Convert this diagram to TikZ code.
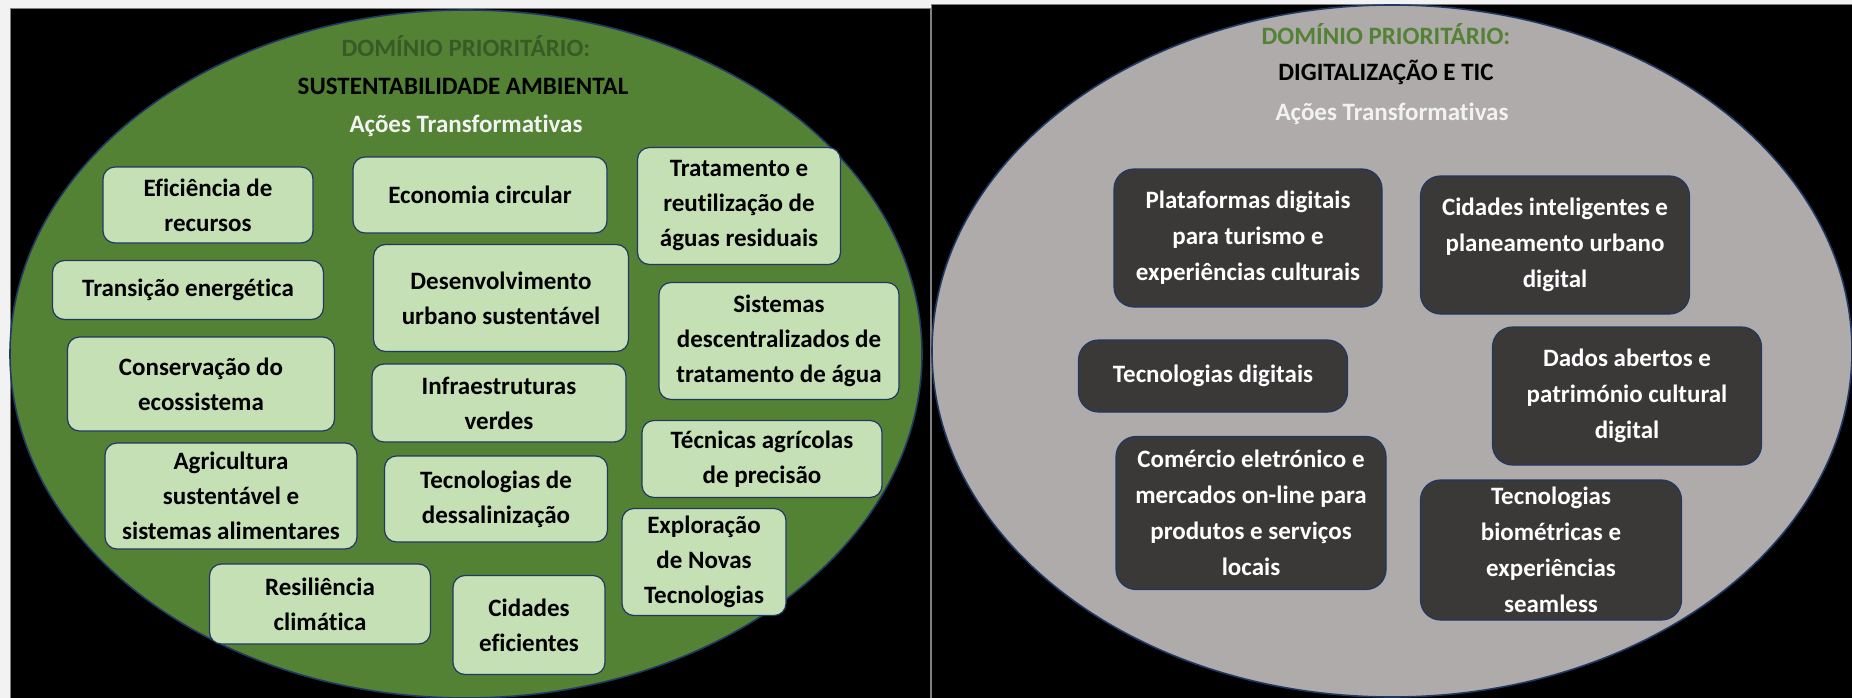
\documentclass[tikz,border=0pt]{standalone}
\usepackage{fontspec}
\setmainfont{Carlito}[Ligatures=NoCommon]
\usetikzlibrary{positioning}
\definecolor{leafgreen}{HTML}{548235}
\definecolor{darkleaf}{HTML}{3A5A25}
\definecolor{palegreen}{HTML}{C5E0B4}
\definecolor{navyline}{HTML}{1F3864}
\definecolor{stonegray}{HTML}{AFABAB}
\definecolor{charcoal}{HTML}{3B3838}
\definecolor{pagegray}{HTML}{F2F2F2}

\begin{document}
\begin{tikzpicture}[
x=1pt, y=-1pt,
greenbox/.style={draw=navyline, line width=1.2pt, fill=palegreen, rounded corners=12pt, align=center, inner sep=2pt, text=black, font=\fontsize{25}{35}\selectfont\bfseries},
darkbox/.style={draw=navyline, line width=1.2pt, fill=charcoal, rounded corners=20pt, align=center, inner sep=2pt, text=white, font=\fontsize{25}{36}\selectfont\bfseries},
headline/.style={anchor=base, inner sep=0pt, font=\fontsize{25}{30}\selectfont\bfseries},
oval/.style={draw=navyline, line width=1.6pt}
]

\useasboundingbox (0,0) rectangle (1852,698);
\fill[pagegray] (0,0) rectangle (1852,698);
\draw[gray, fill=black] (10,8) rectangle (930,702);
\draw[gray, fill=black] (931,4) rectangle (1856,702);

\draw[oval, fill=leafgreen] (466,354) ellipse [x radius=456, y radius=344];
\draw[oval, fill=stonegray] (1392,351) ellipse [x radius=460, y radius=346];

\node[headline, text=darkleaf] (domleft) at (466,57) {DOMÍNIO PRIORITÁRIO:};
\node[headline, text=black] (sust) at (463,95) {SUSTENTABILIDADE AMBIENTAL};
\node[headline, text=pagegray] (acoesleft) at (466,132) {Ações Transformativas};

\node[greenbox, minimum width=210, minimum height=76] (efic) at (208,205) {Eficiência de\\recursos};
\node[greenbox, minimum width=254, minimum height=76] (econ) at (480,195) {Economia circular};
\node[greenbox, minimum width=203, minimum height=117] (trat) at (739,206) {Tratamento e\\reutilização de\\águas residuais};
\node[greenbox, minimum width=271, minimum height=59] (trans) at (188,290) {Transição energética};
\node[greenbox, minimum width=255, minimum height=107] (desen) at (501,298) {Desenvolvimento\\urbano sustentável};
\node[greenbox, minimum width=240, minimum height=117] (sist) at (779,341) {Sistemas\\descentralizados de\\tratamento de água};
\node[greenbox, minimum width=267, minimum height=94] (cons) at (201,384) {Conservação do\\ecossistema};
\node[greenbox, minimum width=254, minimum height=78] (infra) at (499,403) {Infraestruturas\\verdes};
\node[greenbox, minimum width=240, minimum height=77] (tecag) at (762,459) {Técnicas agrícolas\\de precisão};
\node[greenbox, minimum width=252, minimum height=106] (agri) at (231,496) {Agricultura\\sustentável e\\sistemas alimentares};
\node[greenbox, minimum width=223, minimum height=86] (dessal) at (496,499) {Tecnologias de\\dessalinização};
\node[greenbox, minimum width=164, minimum height=107] (explo) at (704,562) {Exploração\\de Novas\\Tecnologias};
\node[greenbox, minimum width=221, minimum height=80] (resil) at (320,604) {Resiliência\\climática};
\node[greenbox, minimum width=152, minimum height=99] (cidef) at (529,625) {Cidades\\eficientes};

\node[headline, text=leafgreen] (domright) at (1386,45) {DOMÍNIO PRIORITÁRIO:};
\node[headline, text=black] (digit) at (1386,81) {DIGITALIZAÇÃO E TIC};
\node[headline, text=pagegray] (acoesright) at (1392,121) {Ações Transformativas};

\node[darkbox, minimum width=268, minimum height=138] (plat) at (1248,238) {Plataformas digitais\\para turismo e\\experiências culturais};
\node[darkbox, minimum width=269, minimum height=138] (cidint) at (1555,245) {Cidades inteligentes e\\planeamento urbano\\digital};
\node[darkbox, minimum width=269, minimum height=72] (tecdig) at (1213,376) {Tecnologias digitais};
\node[darkbox, minimum width=269, minimum height=138] (dados) at (1627,396) {Dados abertos e\\património cultural\\digital};
\node[darkbox, minimum width=270, minimum height=153] (comerc) at (1251,513) {Comércio eletrónico e\\mercados on-line para\\produtos e serviços\\locais};
\node[darkbox, minimum width=261, minimum height=140] (biom) at (1551,550) {Tecnologias\\biométricas e\\experiências\\seamless};

\end{tikzpicture}
\end{document}
